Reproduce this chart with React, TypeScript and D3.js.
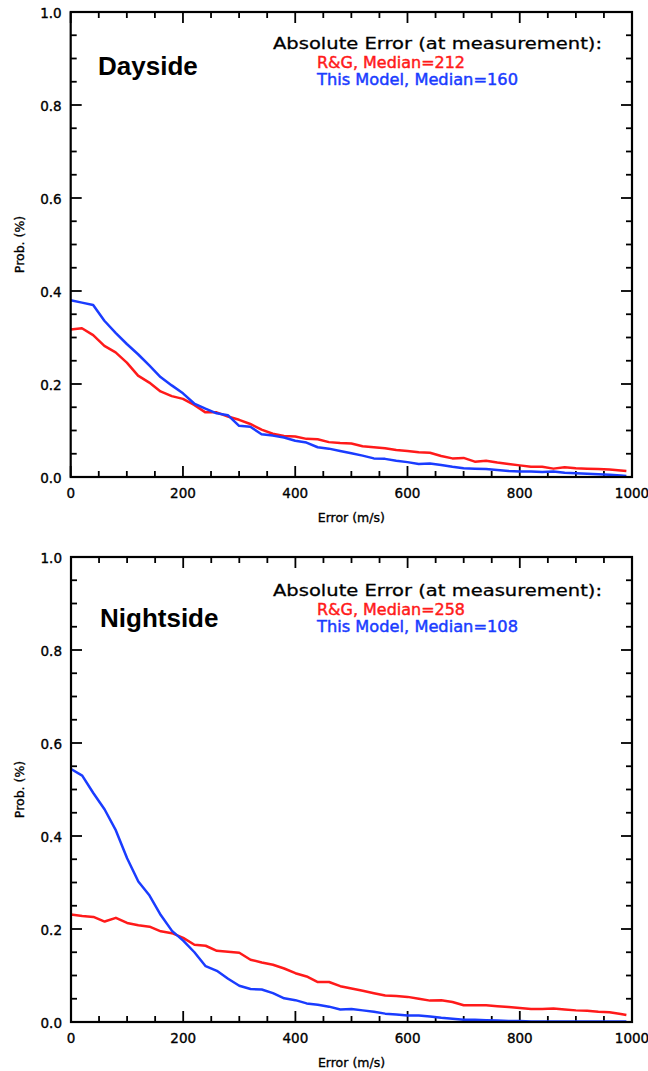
import React from 'react';
import * as d3 from 'd3';

const W = 648;
const H = 1071;

// error bins (m/s)
const errorBins = [
  0, 20, 40, 60, 80, 100, 120, 140, 160, 180,
  200, 220, 240, 260, 280, 300, 320, 340, 360, 380,
  400, 420, 440, 460, 480, 500, 520, 540, 560, 580,
  600, 620, 640, 660, 680, 700, 720, 740, 760, 780,
  800, 820, 840, 860, 880, 900, 920, 940, 960, 980, 990,
];

const dayRG = [
  0.317, 0.320, 0.305, 0.282, 0.268, 0.246, 0.218, 0.203, 0.184, 0.174,
  0.168, 0.155, 0.139, 0.139, 0.130, 0.123, 0.114, 0.102, 0.093, 0.088,
  0.087, 0.082, 0.081, 0.075, 0.073, 0.072, 0.066, 0.064, 0.062, 0.058,
  0.056, 0.053, 0.052, 0.045, 0.040, 0.041, 0.033, 0.035, 0.031, 0.028,
  0.025, 0.022, 0.022, 0.018, 0.021, 0.019, 0.018, 0.017, 0.016, 0.014, 0.013,
];

const dayModel = [
  0.380, 0.375, 0.370, 0.336, 0.310, 0.286, 0.264, 0.240, 0.215, 0.197,
  0.180, 0.158, 0.147, 0.137, 0.133, 0.110, 0.108, 0.092, 0.089, 0.085,
  0.078, 0.074, 0.064, 0.061, 0.056, 0.051, 0.046, 0.040, 0.039, 0.035,
  0.032, 0.028, 0.029, 0.026, 0.022, 0.019, 0.018, 0.017, 0.015, 0.013,
  0.012, 0.012, 0.011, 0.012, 0.009, 0.008, 0.007, 0.006, 0.005, 0.003, 0.002,
];

const nightRG = [
  0.231, 0.228, 0.226, 0.216, 0.224, 0.213, 0.208, 0.205, 0.195, 0.191,
  0.181, 0.166, 0.164, 0.153, 0.151, 0.149, 0.134, 0.128, 0.123, 0.115,
  0.105, 0.098, 0.086, 0.086, 0.077, 0.072, 0.067, 0.062, 0.057, 0.056,
  0.054, 0.050, 0.046, 0.047, 0.043, 0.036, 0.036, 0.036, 0.034, 0.032,
  0.030, 0.028, 0.028, 0.029, 0.027, 0.025, 0.024, 0.022, 0.021, 0.017, 0.015,
];

const nightModel = [
  0.544, 0.530, 0.492, 0.457, 0.412, 0.352, 0.302, 0.272, 0.230, 0.196,
  0.175, 0.150, 0.120, 0.110, 0.093, 0.078, 0.071, 0.070, 0.062, 0.051,
  0.047, 0.040, 0.037, 0.033, 0.027, 0.028, 0.025, 0.022, 0.018, 0.016,
  0.014, 0.014, 0.012, 0.009, 0.007, 0.005, 0.005, 0.004, 0.003, 0.002,
  0.002, 0.001, 0.001, 0.001, 0.001, 0.001, 0.001, 0.001, 0.001, 0.001, 0.001,
];

const xTicks = [0, 200, 400, 600, 800, 1000];
const yTicks = [0, 0.2, 0.4, 0.6, 0.8, 1.0];

const RED = '#ff1a1a';
const BLUE = '#1a3cff';
const TICK_FONT = '"DejaVu Sans", sans-serif';

const Panel = ({ box, title, rgMedian, modelMedian, rg, model, txt }) => {
  const x = d3.scaleLinear().domain([0, 1000]).range([box.left, box.right]);
  const y = d3.scaleLinear().domain([0, 1]).range([box.bottom, box.top]);
  const line = d3
    .line()
    .x((d, i) => x(errorBins[i]))
    .y(d => y(d));

  const xMinor = d3.range(0, 1001, 50);
  const yMinor = d3.range(0, 1.001, 0.05);

  return (
    <g>
      {/* ticks on all four sides, pointing in */}
      {xMinor.map(v => {
        const len = v % 200 === 0 ? 11 : 6;
        return (
          <g key={'xt' + v} stroke="#000" strokeWidth={1.8}>
            <line x1={x(v)} x2={x(v)} y1={box.bottom} y2={box.bottom - len} />
            <line x1={x(v)} x2={x(v)} y1={box.top} y2={box.top + len} />
          </g>
        );
      })}
      {yMinor.map((v, i) => {
        const len = i % 4 === 0 ? 11 : 6;
        return (
          <g key={'yt' + i} stroke="#000" strokeWidth={1.8}>
            <line x1={box.left} x2={box.left + len} y1={y(v)} y2={y(v)} />
            <line x1={box.right} x2={box.right - len} y1={y(v)} y2={y(v)} />
          </g>
        );
      })}

      <path d={line(rg)} fill="none" stroke={RED} strokeWidth={2.5} strokeLinejoin="round" />
      <path d={line(model)} fill="none" stroke={BLUE} strokeWidth={2.5} strokeLinejoin="round" />

      <rect
        x={box.left}
        y={box.top}
        width={box.right - box.left}
        height={box.bottom - box.top}
        fill="none"
        stroke="#000"
        strokeWidth={2.2}
      />

      <g fontFamily={TICK_FONT} stroke="#000" strokeWidth={0.35}>
        {yTicks.map(v => (
          <text
            key={'yl' + v}
            x={box.left - 9}
            y={y(v) + 1}
            textAnchor="end"
            dominantBaseline="central"
            fontSize={13.5}
          >
            {v.toFixed(1)}
          </text>
        ))}
        {xTicks.map(v => (
          <text key={'xl' + v} x={x(v)} y={box.bottom + 21} textAnchor="middle" fontSize={13.5}>
            {v}
          </text>
        ))}
        <text
          x={(box.left + box.right) / 2}
          y={box.bottom + 45}
          textAnchor="middle"
          fontSize={12.5}
        >
          Error (m/s)
        </text>
        <text
          transform={`translate(24, ${(box.top + box.bottom) / 2}) rotate(-90)`}
          textAnchor="middle"
          fontSize={12.5}
        >
          Prob. (%)
        </text>
      </g>

      <text
        x={txt.titleX}
        y={box.top + txt.titleY}
        fontFamily='"Liberation Sans", Arial, sans-serif'
        fontWeight="bold"
        fontSize={26}
      >
        {title}
      </text>
      <text
        x={273}
        y={box.top + txt.legY}
        fontFamily={TICK_FONT}
        fontSize={16.5}
        stroke="#000"
        strokeWidth={0.3}
        textLength={329}
        lengthAdjust="spacingAndGlyphs"
      >
        Absolute Error (at measurement):
      </text>
      <text
        x={317}
        y={box.top + txt.legY + 19}
        fontFamily={TICK_FONT}
        fontSize={15.5}
        fill={RED}
        stroke={RED}
        strokeWidth={0.45}
        textLength={148}
        lengthAdjust="spacingAndGlyphs"
      >
        {`R&G, Median=${rgMedian}`}
      </text>
      <text
        x={317}
        y={box.top + txt.legY + 36}
        fontFamily={TICK_FONT}
        fontSize={15.5}
        fill={BLUE}
        stroke={BLUE}
        strokeWidth={0.45}
        textLength={201}
        lengthAdjust="spacingAndGlyphs"
      >
        {`This Model, Median=${modelMedian}`}
      </text>
    </g>
  );
};

const App = () => {
  return (
    <svg
      width={W}
      height={H}
      style={{ position: 'absolute', left: 0, top: 0, background: '#fff' }}
    >
      <rect width={W} height={H} fill="#fff" />
      <Panel
        box={{ left: 70.7, right: 632, top: 12, bottom: 477 }}
        title="Dayside"
        rgMedian={212}
        modelMedian={160}
        rg={dayRG}
        model={dayModel}
        txt={{ titleX: 98, titleY: 63, legY: 37 }}
      />
      <Panel
        box={{ left: 71, right: 632, top: 557, bottom: 1022 }}
        title="Nightside"
        rgMedian={258}
        modelMedian={108}
        rg={nightRG}
        model={nightModel}
        txt={{ titleX: 100, titleY: 70, legY: 39 }}
      />
    </svg>
  );
};

export default App;
